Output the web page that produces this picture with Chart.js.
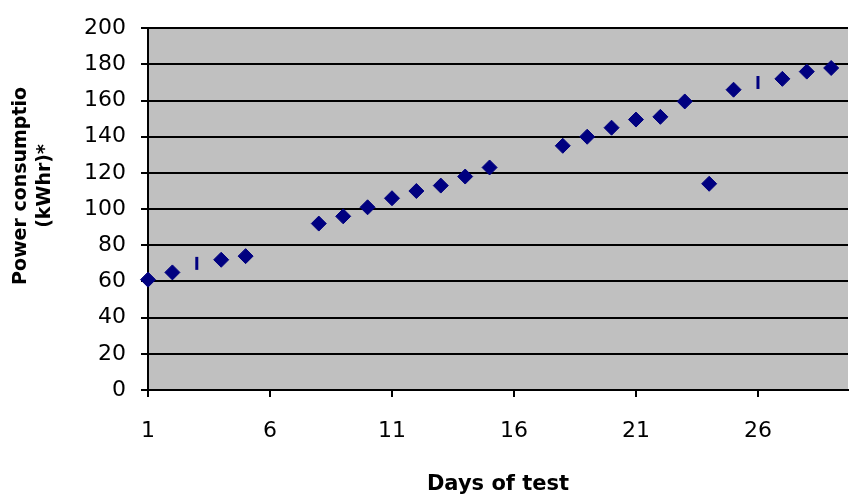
<!DOCTYPE html>
<html>
<head>
<meta charset="utf-8">
<script src="https://cdn.jsdelivr.net/npm/chart.js@4/dist/chart.umd.min.js"></script>
<style>
  html, body { margin: 0; padding: 0; background: #ffffff; }
  #wrap { width: 849px; height: 502px; }
</style>
</head>
<body>
<div id="wrap"><canvas id="c" width="849" height="502"></canvas></div>
<script>
// ---- data ----
const days = [1,2,3,4,5,6,7,8,9,10,11,12,13,14,15,16,17,18,19,20,21,22,23,24,25,26,27,28,29];
const consumption = [61,65,null,72,74,null,null,92,96,101,106,110,113,118,123,null,null,135,140,145,149.5,151,159.5,114,166,null,172,176,178];
const dashDays = [3, 26];
const dashValues = [70, 170];
const xTickLabels = [1, 6, 11, 16, 21, 26];
const yTickValues = [0, 20, 40, 60, 80, 100, 120, 140, 160, 180, 200];
const yAxisTitle = ['Power consumptio', '(kWhr)*'];
const xAxisTitle = 'Days of test';

const mainPoints = days.map((d, i) => ({ x: d, y: consumption[i] }));
const dashPoints = dashDays.map((d, i) => ({ x: d, y: dashValues[i] }));

const plotBg = {
  id: 'plotBg',
  beforeDraw(chart) {
    const { ctx, chartArea: a } = chart;
    ctx.save();
    ctx.fillStyle = '#c0c0c0';
    ctx.fillRect(a.left, a.top, a.right - a.left, a.bottom - a.top);
    ctx.restore();
  }
};

const pad = ' '.repeat(7);

new Chart(document.getElementById('c'), {
  type: 'scatter',
  data: {
    datasets: [
      {
        data: mainPoints,
        showLine: false,
        pointStyle: 'rectRot',
        pointRadius: 7.5,
        pointHoverRadius: 7.5,
        backgroundColor: '#000080',
        borderColor: '#000080',
        borderWidth: 1,
        clip: false
      },
      {
        data: dashPoints,
        showLine: false,
        pointStyle: 'line',
        rotation: 90,
        pointRadius: 6.5,
        pointHoverRadius: 6.5,
        backgroundColor: '#000080',
        borderColor: '#000080',
        borderWidth: 3,
        clip: false
      }
    ]
  },
  options: {
    responsive: false,
    animation: false,
    devicePixelRatio: 1,
    layout: { autoPadding: false, padding: { top: 20, right: 1, bottom: 0, left: 0 } },
    plugins: { legend: { display: false }, tooltip: { enabled: false } },
    events: [],
    scales: {
      x: {
        type: 'linear',
        min: 1,
        max: 29.69,
        afterBuildTicks(scale) { scale.ticks = xTickLabels.map(v => ({ value: v })); },
        afterFit(scale) { scale.height = 112; scale.paddingLeft = 0; scale.paddingRight = 0; },
        ticks: {
          color: '#000000',
          font: { family: 'DejaVu Sans', size: 22 },
          padding: 21,
          maxRotation: 0,
          autoSkip: false,
          callback: (v) => String(v)
        },
        grid: { drawOnChartArea: false, drawTicks: true, tickLength: 7, color: '#000000', lineWidth: 2 },
        border: { display: true, color: '#000000', width: 2 },
        title: {
          display: true,
          text: xAxisTitle,
          color: '#000000',
          font: { family: 'DejaVu Sans', size: 21, weight: 'bold' },
          padding: { top: 0, bottom: 5 }
        }
      },
      y: {
        type: 'linear',
        min: 0,
        max: 200,
        afterBuildTicks(scale) { scale.ticks = yTickValues.map(v => ({ value: v })); },
        afterFit(scale) { scale.width = 148; },
        ticks: {
          color: '#000000',
          font: { family: 'DejaVu Sans', size: 22 },
          padding: 15
        },
        grid: { drawOnChartArea: true, drawTicks: true, tickLength: 7, color: '#000000', lineWidth: 2 },
        border: { display: true, color: '#000000', width: 2 },
        title: {
          display: true,
          text: yAxisTitle.map(t => pad + t),
          color: '#000000',
          font: { family: 'DejaVu Sans', size: 19, weight: 'bold', lineHeight: 1.26 },
          padding: { top: 9, bottom: 0 }
        }
      }
    }
  },
  plugins: [plotBg]
});
</script>
</body>
</html>
